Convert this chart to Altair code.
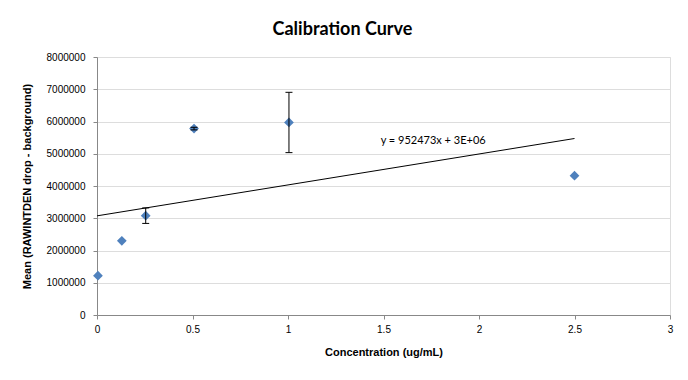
import altair as alt
import pandas as pd

# data
conc = [0.005, 0.13, 0.255, 0.508, 1.005, 2.5]
mean = [1220000, 2300000, 3080000, 5780000, 5970000, 4320000]
err = [0, 0, 240000, 40000, 935000, 0]
x_ticks = [0, 0.5, 1, 1.5, 2, 2.5, 3]
y_ticks = [0, 1000000, 2000000, 3000000, 4000000, 5000000, 6000000, 7000000, 8000000]
eq_label = ["y = 952473x + 3E+06"]
eq_x = [1.76]
eq_y = [5390000]

df = pd.DataFrame({"x": conc, "y": mean, "err": err})
df["lo"] = df["y"] - df["err"]
df["hi"] = df["y"] + df["err"]
eq_df = pd.DataFrame({"x": eq_x, "y": eq_y, "t": eq_label})

FONT = "Lato"
GRID = "#7c7c7c"

xs = alt.Scale(domain=[0, 3], nice=False, zero=False)
ys = alt.Scale(domain=[0, 8000000], nice=False)

x_axis = alt.Axis(values=x_ticks, format="~g", grid=False, title="Concentration (ug/mL)",
                  tickSize=4, labelPadding=5, titleY=37, titleBaseline="middle",
                  labelOverlap=False, labelFlush=False)
y_axis = alt.Axis(values=y_ticks, format="d", grid=True, title="Mean (RAWINTDEN drop - background)",
                  tickSize=4, labelPadding=8, titleX=-70, titleY=129, titleAngle=270,
                  titleAlign="center", titleBaseline="middle",
                  labelOverlap=False, labelFlush=False)


def X(field):
    return alt.X(field, type="quantitative", scale=xs, axis=x_axis)


def Y(field):
    return alt.Y(field, type="quantitative", scale=ys, axis=y_axis)


base = alt.Chart(df)

points = base.mark_point(shape="diamond", filled=True, size=95, color="#4F81BD", opacity=1).encode(
    x=X("x"), y=Y("y"),
)

bars = base.transform_filter("datum.err > 0").mark_rule(color="black", strokeWidth=1).encode(
    x=X("x"), y=Y("lo"), y2="hi:Q"
)
cap_lo = base.transform_filter("datum.err > 0").mark_tick(color="black", thickness=1, size=7, orient="horizontal", opacity=1).encode(
    x=X("x"), y=Y("lo")
)
cap_hi = base.transform_filter("datum.err > 0").mark_tick(color="black", thickness=1, size=7, orient="horizontal", opacity=1).encode(
    x=X("x"), y=Y("hi")
)

trend = base.transform_regression("x", "y", extent=[0, 2.5]).mark_line(color="black", strokeWidth=1).encode(
    x=X("x"), y=Y("y")
)

eq = alt.Chart(eq_df).mark_text(font=FONT, fontSize=11, color="black").encode(
    x=X("x"), y=Y("y"), text="t:N"
)

chart = alt.layer(points, bars, cap_lo, cap_hi, trend, eq).properties(
    width=573,
    height=258,
    autosize=alt.AutoSizeParams(type="none"),
    padding={"left": 89, "top": 49, "right": 10, "bottom": 57},
    title=alt.TitleParams("Calibration Curve", font=FONT, fontSize=18, fontWeight="bold",
                          color="black", dx=-41, offset=13, anchor="middle"),
).configure_view(stroke=None).configure_axis(
    labelFont=FONT, labelFontSize=11, labelColor="black",
    titleFont=FONT, titleFontSize=12.5, titleFontWeight="bold", titleColor="black",
    domainColor=GRID, tickColor=GRID, gridColor=GRID, gridWidth=1, domainWidth=1,
    gridOpacity=1, domainOpacity=1, tickOpacity=1,
).configure(background="white")

chart.save("out.html", embed_options={"renderer": "svg", "actions": False})
